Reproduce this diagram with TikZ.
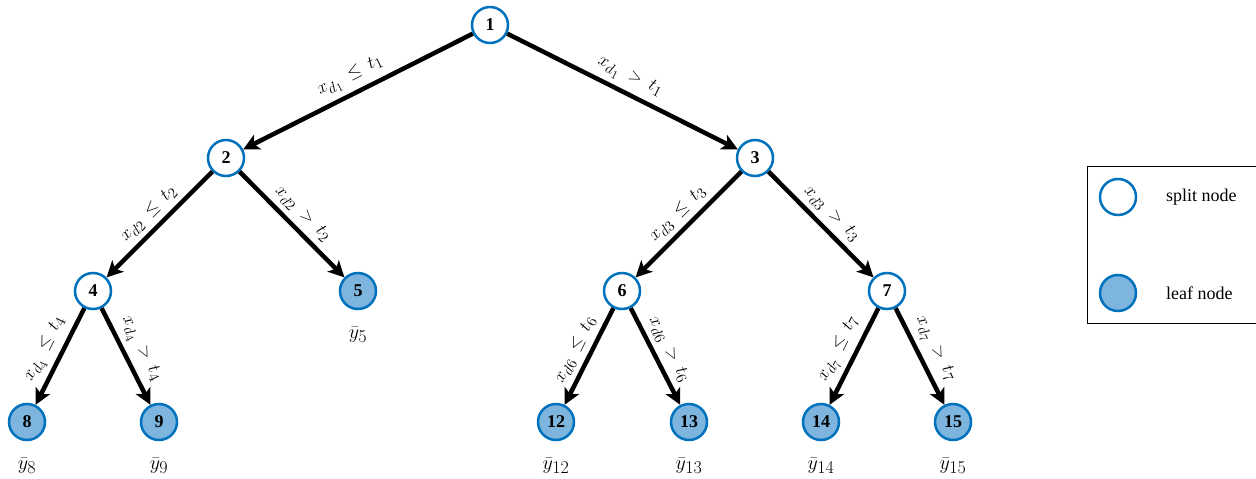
\RequirePackage{fix-cm}
\documentclass[tikz,border=0pt]{standalone}
\usepackage{fontspec}
\setmainfont{Liberation Serif}
\usetikzlibrary{arrows.meta}
\DeclareMathSizes{18}{18}{15}{12}
\DeclareMathSizes{20}{20}{18}{14}
\definecolor{nodeblue}{RGB}{0,114,189}
\definecolor{leafblue}{RGB}{126,181,222}
\newcommand{\mylabfont}{\fontsize{18}{18}\selectfont\thickmuskip=9mu plus 2mu\relax}
\begin{document}
\begin{tikzpicture}[x=1pt,y=-1pt,
  splitnode/.style={circle,draw=nodeblue,line width=2.5pt,fill=white,minimum size=36pt,inner sep=0pt,font=\fontsize{18}{18}\selectfont\bfseries},
  leafnode/.style={splitnode,fill=leafblue},
  conn/.style={line width=4.5pt,-{Stealth[length=16pt,width=16pt,inset=4pt]}},
  lab/.style={sloped,above=5pt,font=\mylabfont,inner sep=0pt},
  ylab/.style={font=\fontsize{20}{20}\selectfont,inner sep=0pt},
  legtext/.style={font=\fontsize{18}{18}\selectfont,inner sep=0pt,anchor=west}]
\useasboundingbox (0,0) rectangle (1256,479);
% tree nodes
\node[splitnode] (n1) at (490,25) {1};
\node[splitnode] (n2) at (226,158) {2};
\node[splitnode] (n3) at (755,158) {3};
\node[splitnode] (n4) at (93,291) {4};
\node[leafnode] (n5) at (358,291) {5};
\node[splitnode] (n6) at (622,291) {6};
\node[splitnode] (n7) at (887,291) {7};
\node[leafnode] (n8) at (27,422) {8};
\node[leafnode] (n9) at (159,422) {9};
\node[leafnode] (n12) at (556,422) {12};
\node[leafnode] (n13) at (689,422) {13};
\node[leafnode] (n14) at (821,422) {14};
\node[leafnode] (n15) at (953,422) {15};
% connectors
\draw[conn] (n1) -- node[lab] {$x_{d_1}\leq t_1$} (n2);
\draw[conn] (n1) -- node[lab] {$x_{d_1}> t_1$} (n3);
\draw[conn] (n2) -- node[lab] {$x_{d2}\leq t_2$} (n4);
\draw[conn] (n2) -- node[lab] {$x_{d2}> t_2$} (n5);
\draw[conn] (n3) -- node[lab] {$x_{d3}\leq t_3$} (n6);
\draw[conn] (n3) -- node[lab] {$x_{d3}> t_3$} (n7);
\draw[conn] (n4) -- node[lab] {$x_{d_4}\leq t_4$} (n8);
\draw[conn] (n4) -- node[lab] {$x_{d_4}> t_4$} (n9);
\draw[conn] (n6) -- node[lab] {$x_{d6}\leq t_6$} (n12);
\draw[conn] (n6) -- node[lab] {$x_{d6}> t_6$} (n13);
\draw[conn] (n7) -- node[lab] {$x_{d_7}\leq t_7$} (n14);
\draw[conn] (n7) -- node[lab] {$x_{d_7}> t_7$} (n15);
% leaf values
\node[ylab] (y5) at ([yshift=-44pt]n5.center) {$\bar{y}_5$};
\node[ylab] (y8) at ([yshift=-44pt]n8.center) {$\bar{y}_8$};
\node[ylab] (y9) at ([yshift=-44pt]n9.center) {$\bar{y}_9$};
\node[ylab] (y12) at ([yshift=-44pt]n12.center) {$\bar{y}_{12}$};
\node[ylab] (y13) at ([yshift=-44pt]n13.center) {$\bar{y}_{13}$};
\node[ylab] (y14) at ([yshift=-44pt]n14.center) {$\bar{y}_{14}$};
\node[ylab] (y15) at ([yshift=-44pt]n15.center) {$\bar{y}_{15}$};
% legend
\draw[line width=1pt] (1087,166) rectangle (1262,323);
\node[splitnode] (ls) at (1118,197) {};
\node[leafnode] (ll) at (1118,293) {};
\node[legtext] (lst) at (1166,197) {split node};
\node[legtext] (llt) at (1166,293) {leaf node};
\end{tikzpicture}
\end{document}
